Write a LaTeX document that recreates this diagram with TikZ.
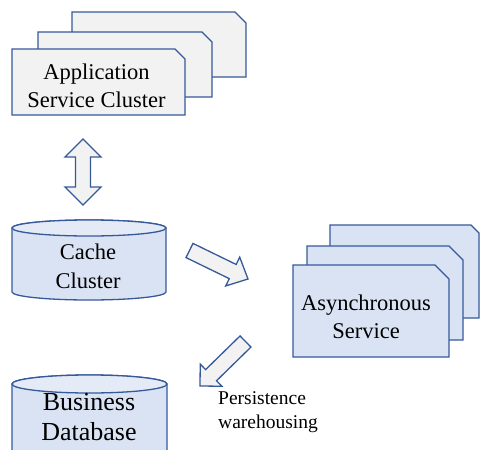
\documentclass[tikz,border=0pt]{standalone}
\usepackage{fontspec}
\setmainfont{Liberation Serif}
\usetikzlibrary{calc}
\definecolor{edgeblue}{HTML}{36599A}
\definecolor{grayfill}{HTML}{F2F2F2}
\definecolor{bluefill}{HTML}{DAE3F3}
\definecolor{bluetop}{HTML}{E4EAF6}
% #1 start, #2 tip, #3 shaft half width, #4 head half width, #5 head length
\newcommand\blockarrow[5]{%
  \coordinate (#1hb) at ($(#2)!#5!(#1)$);
  \draw[arrowshape] ($(#1)!#3!90:(#2)$) -- ($(#1hb)!#3!90:(#2)$) -- ($(#1hb)!#4!90:(#2)$)
    -- (#2) -- ($(#1hb)!#4!-90:(#2)$) -- ($(#1hb)!#3!-90:(#2)$) -- ($(#1)!#3!-90:(#2)$) -- cycle;}
% #1 tip one, #2 tip two, #3 shaft half width, #4 head half width, #5 head length
\newcommand\dblarrow[5]{%
  \coordinate (#1ha) at ($(#1)!#5!(#2)$);
  \coordinate (#1hb) at ($(#2)!#5!(#1)$);
  \draw[arrowshape] (#1) -- ($(#1ha)!#4!90:(#2)$) -- ($(#1ha)!#3!90:(#2)$) -- ($(#1hb)!#3!90:(#2)$)
    -- ($(#1hb)!#4!90:(#2)$) -- (#2) -- ($(#1hb)!#4!-90:(#2)$) -- ($(#1hb)!#3!-90:(#2)$)
    -- ($(#1ha)!#3!-90:(#2)$) -- ($(#1ha)!#4!-90:(#2)$) -- cycle;}
% card with snipped top-right corner: #1 name, #2 x1, #3 y1, #4 x2, #5 y2, #6 snip, #7 style
\newcommand\snipcard[7]{%
  \draw[#7] (#2,#3) -- ({#4-#6},#3) -- (#4,{#3+#6}) -- (#4,#5) -- (#2,#5) -- cycle;
  \coordinate (#1) at ({(#2+#4)/2},{(#3+#5)/2});}
\tikzset{
  outline/.style={draw=edgeblue, line width=1.3pt, line join=miter},
  graycard/.style={outline, fill=grayfill},
  bluecard/.style={outline, fill=bluefill},
  arrowshape/.style={outline, fill=grayfill},
  cylbody/.style={outline, fill=bluefill},
  cyltop/.style={outline, fill=bluetop},
  lbl/.style={align=center, inner sep=0pt, text=black},
}
\begin{document}
\begin{tikzpicture}[x=1pt,y=-1pt]
\useasboundingbox (0,0) rectangle (480,450);
% application service cluster
\snipcard{app3}{72}{12}{246}{77}{11}{graycard}
\snipcard{app2}{38}{32}{212}{97}{10}{graycard}
\snipcard{app1}{12}{49}{185}{115}{10}{graycard}
\node[lbl, font=\fontsize{22.5}{28}\selectfont] (applbl) at (96.5,85.5) {Application\\Service Cluster};
% asynchronous service cluster
\snipcard{async3}{330}{225}{479}{318}{8}{bluecard}
\snipcard{async2}{307}{246}{463}{340}{14}{bluecard}
\snipcard{async1}{293}{265}{449}{357}{14}{bluecard}
\node[lbl, font=\fontsize{22.5}{28}\selectfont] (asynclbl) at (366,317) {Asynchronous\\Service};
% cache cluster cylinder
\path[cylbody] (12,228) -- (12,292) arc[start angle=180, end angle=360, x radius=77pt, y radius=8pt]
  -- (166,228) arc[start angle=0, end angle=180, x radius=77pt, y radius=8pt] -- cycle;
\draw[cyltop] (89,228) ellipse[x radius=77pt, y radius=8pt];
\node[lbl, font=\fontsize{22.5}{29}\selectfont] (cache) at (88,266) {Cache\\Cluster};
% business database cylinder
\path[cylbody] (12,384) -- (12,456) arc[start angle=180, end angle=360, x radius=77.5pt, y radius=9pt]
  -- (167,384) arc[start angle=0, end angle=180, x radius=77.5pt, y radius=9pt] -- cycle;
\draw[cyltop] (89.5,384) ellipse[x radius=77.5pt, y radius=9pt];
\node[lbl, font=\fontsize{26}{30}\selectfont] (db) at (89,417.5) {Business\\Database};
% persistence label
\node[lbl, align=left, anchor=north west, font=\fontsize{19.5}{23.5}\selectfont] (persist) at (218,391.5) {Persistence\\warehousing};
% arrows
\coordinate (dA) at (83,139);
\coordinate (dB) at (83,205);
\dblarrow{dA}{dB}{7.5pt}{18pt}{18pt}
\coordinate (rS) at (189.5,250.5);
\coordinate (rE) at (248,279);
\blockarrow{rS}{rE}{7.9pt}{16pt}{17pt}
\coordinate (pS) at (245.5,341.5);
\coordinate (pE) at (200,386);
\blockarrow{pS}{pE}{7.8pt}{15.5pt}{15.5pt}
\end{tikzpicture}
\end{document}
